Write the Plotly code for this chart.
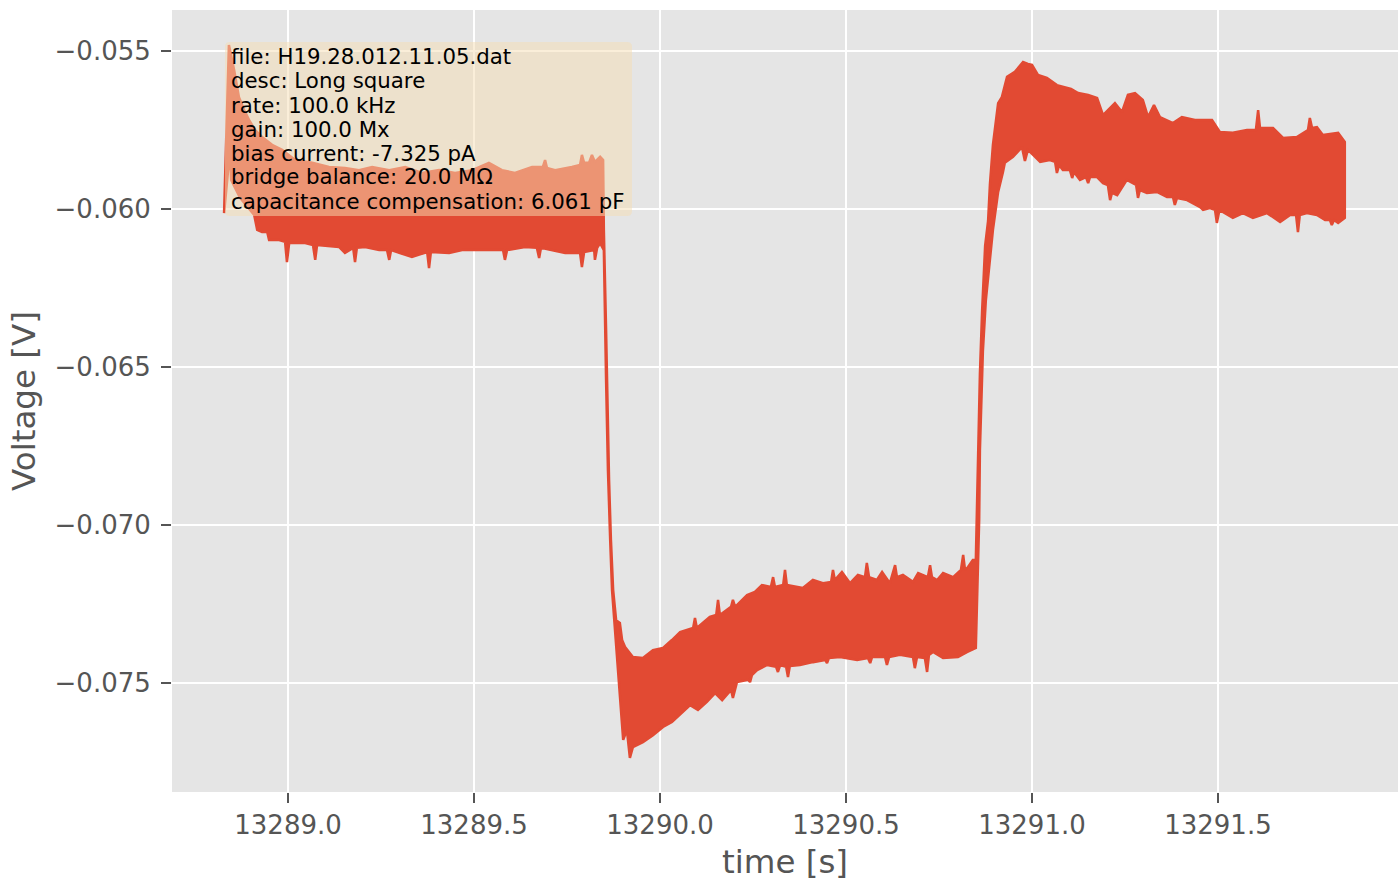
import plotly.graph_objects as go

# Upper edge of the noisy voltage trace (time [s], voltage [V])
upper_env = [
    (13288.828, -0.06013), (13288.841, -0.05481), (13288.855, -0.05560), (13288.868, -0.05646),
    (13288.882, -0.05687), (13288.895, -0.05718), (13288.911, -0.05750), (13288.930, -0.05772),
    (13288.957, -0.05797), (13288.984, -0.05813), (13289.019, -0.05845), (13289.065, -0.05854),
    (13289.110, -0.05867), (13289.153, -0.05870), (13289.191, -0.05877), (13289.226, -0.05867),
    (13289.272, -0.05877), (13289.315, -0.05867), (13289.360, -0.05886), (13289.406, -0.05877),
    (13289.449, -0.05886), (13289.495, -0.05877), (13289.540, -0.05854), (13289.575, -0.05877),
    (13289.610, -0.05886), (13289.656, -0.05867), (13289.685, -0.05867), (13289.691, -0.05845),
    (13289.696, -0.05870), (13289.718, -0.05877), (13289.763, -0.05867), (13289.785, -0.05861),
    (13289.790, -0.05829), (13289.796, -0.05854), (13289.809, -0.05854), (13289.817, -0.05829),
    (13289.825, -0.05851), (13289.839, -0.05835), (13289.847, -0.05845),
    # fall
    (13289.849, -0.06066), (13289.855, -0.06383), (13289.858, -0.06604), (13289.863, -0.06858),
    (13289.868, -0.07047), (13289.874, -0.07206), (13289.882, -0.07301), (13289.892, -0.07310),
    (13289.898, -0.07364), (13289.906, -0.07386),
    # trough
    (13289.927, -0.07418), (13289.954, -0.07421), (13289.981, -0.07396), (13290.008, -0.07389),
    (13290.032, -0.07364), (13290.054, -0.07339), (13290.089, -0.07326), (13290.094, -0.07294),
    (13290.099, -0.07326), (13290.134, -0.07291), (13290.151, -0.07285), (13290.156, -0.07237),
    (13290.161, -0.07285), (13290.191, -0.07259), (13290.196, -0.07237), (13290.202, -0.07259),
    (13290.234, -0.07222), (13290.255, -0.07212), (13290.274, -0.07190), (13290.298, -0.07196),
    (13290.304, -0.07165), (13290.309, -0.07196), (13290.331, -0.07190), (13290.336, -0.07142),
    (13290.341, -0.07190), (13290.384, -0.07199), (13290.411, -0.07174), (13290.438, -0.07184),
    (13290.460, -0.07180), (13290.465, -0.07142), (13290.470, -0.07174), (13290.489, -0.07149),
    (13290.511, -0.07184), (13290.532, -0.07158), (13290.551, -0.07165), (13290.556, -0.07120),
    (13290.562, -0.07165), (13290.583, -0.07174), (13290.597, -0.07149), (13290.618, -0.07184),
    (13290.632, -0.07127), (13290.637, -0.07165), (13290.653, -0.07158), (13290.680, -0.07180),
    (13290.694, -0.07152), (13290.720, -0.07165), (13290.726, -0.07127), (13290.731, -0.07165),
    (13290.745, -0.07174), (13290.761, -0.07152), (13290.788, -0.07165), (13290.809, -0.07142),
    (13290.815, -0.07095), (13290.820, -0.07142), (13290.828, -0.07133), (13290.841, -0.07111),
    (13290.849, -0.07111),
    # rise
    (13290.852, -0.06930), (13290.855, -0.06772), (13290.860, -0.06522), (13290.866, -0.06320),
    (13290.874, -0.06117), (13290.882, -0.06038), (13290.887, -0.05921), (13290.895, -0.05797),
    (13290.909, -0.05665), (13290.919, -0.05646), (13290.933, -0.05582), (13290.954, -0.05566),
    (13290.976, -0.05535), (13290.989, -0.05541), (13291.000, -0.05544), (13291.016, -0.05576),
    (13291.040, -0.05585), (13291.067, -0.05608), (13291.083, -0.05614), (13291.105, -0.05620),
    (13291.124, -0.05633), (13291.151, -0.05639), (13291.175, -0.05649), (13291.191, -0.05703),
    (13291.223, -0.05665), (13291.242, -0.05693), (13291.258, -0.05639), (13291.277, -0.05633),
    (13291.298, -0.05655), (13291.312, -0.05709), (13291.328, -0.05671), (13291.344, -0.05709),
    (13291.379, -0.05728), (13291.403, -0.05709), (13291.438, -0.05718), (13291.484, -0.05718),
    (13291.505, -0.05756), (13291.540, -0.05759), (13291.578, -0.05750), (13291.602, -0.05750),
    (13291.608, -0.05687), (13291.613, -0.05744), (13291.648, -0.05744), (13291.675, -0.05775),
    (13291.712, -0.05772), (13291.742, -0.05750), (13291.747, -0.05712), (13291.753, -0.05744),
    (13291.766, -0.05741), (13291.782, -0.05766), (13291.823, -0.05759), (13291.841, -0.05788),
]

# Lower edge of the noisy voltage trace (time [s], voltage [V])
lower_env = [
    (13288.828, -0.06013), (13288.844, -0.05813), (13288.847, -0.05908), (13288.871, -0.05965),
    (13288.909, -0.06019), (13288.917, -0.06066), (13288.930, -0.06073), (13288.944, -0.06073),
    (13288.949, -0.06098), (13288.976, -0.06098), (13288.992, -0.06104), (13288.997, -0.06168),
    (13289.003, -0.06108), (13289.046, -0.06108), (13289.067, -0.06114), (13289.073, -0.06161),
    (13289.078, -0.06114), (13289.137, -0.06120), (13289.153, -0.06139), (13289.175, -0.06123),
    (13289.180, -0.06168), (13289.185, -0.06123), (13289.207, -0.06120), (13289.245, -0.06130),
    (13289.266, -0.06130), (13289.272, -0.06161), (13289.277, -0.06130), (13289.333, -0.06152),
    (13289.374, -0.06136), (13289.379, -0.06187), (13289.384, -0.06136), (13289.433, -0.06139),
    (13289.468, -0.06130), (13289.503, -0.06130), (13289.548, -0.06130), (13289.578, -0.06130),
    (13289.583, -0.06161), (13289.589, -0.06130), (13289.637, -0.06120), (13289.669, -0.06123),
    (13289.675, -0.06155), (13289.680, -0.06123), (13289.745, -0.06139), (13289.785, -0.06139),
    (13289.790, -0.06184), (13289.796, -0.06136), (13289.823, -0.06130), (13289.825, -0.06161),
    (13289.831, -0.06123), (13289.839, -0.06108), (13289.849, -0.06130),
    # fall
    (13289.852, -0.06288), (13289.855, -0.06541), (13289.860, -0.06826), (13289.866, -0.07047),
    (13289.871, -0.07206), (13289.876, -0.07301), (13289.884, -0.07396), (13289.892, -0.07544),
    (13289.901, -0.07680), (13289.911, -0.07649), (13289.919, -0.07737), (13289.927, -0.07703),
    # trough
    (13289.954, -0.07687), (13289.981, -0.07665), (13290.008, -0.07639), (13290.032, -0.07623),
    (13290.054, -0.07601), (13290.081, -0.07570), (13290.102, -0.07585), (13290.126, -0.07560),
    (13290.148, -0.07532), (13290.167, -0.07554), (13290.191, -0.07522), (13290.196, -0.07547),
    (13290.207, -0.07497), (13290.237, -0.07490), (13290.242, -0.07497), (13290.247, -0.07475),
    (13290.261, -0.07459), (13290.288, -0.07443), (13290.312, -0.07449), (13290.317, -0.07465),
    (13290.323, -0.07443), (13290.339, -0.07449), (13290.344, -0.07481), (13290.349, -0.07446),
    (13290.376, -0.07443), (13290.411, -0.07434), (13290.444, -0.07427), (13290.449, -0.07437),
    (13290.454, -0.07421), (13290.484, -0.07418), (13290.530, -0.07427), (13290.559, -0.07421),
    (13290.565, -0.07437), (13290.570, -0.07418), (13290.605, -0.07418), (13290.610, -0.07443),
    (13290.616, -0.07418), (13290.645, -0.07411), (13290.680, -0.07418), (13290.685, -0.07453),
    (13290.691, -0.07418), (13290.712, -0.07421), (13290.718, -0.07465), (13290.723, -0.07411),
    (13290.734, -0.07402), (13290.761, -0.07421), (13290.801, -0.07418), (13290.825, -0.07402),
    (13290.849, -0.07389),
    # rise
    (13290.858, -0.06984), (13290.860, -0.06763), (13290.868, -0.06449), (13290.876, -0.06288),
    (13290.882, -0.06222), (13290.895, -0.06066), (13290.909, -0.05946), (13290.922, -0.05883),
    (13290.927, -0.05854), (13290.949, -0.05835), (13290.973, -0.05804), (13290.981, -0.05848),
    (13290.989, -0.05813), (13291.003, -0.05829), (13291.022, -0.05851), (13291.048, -0.05845),
    (13291.062, -0.05851), (13291.067, -0.05886), (13291.073, -0.05861), (13291.083, -0.05877),
    (13291.102, -0.05877), (13291.108, -0.05902), (13291.113, -0.05883), (13291.129, -0.05908),
    (13291.145, -0.05899), (13291.151, -0.05918), (13291.156, -0.05899), (13291.175, -0.05899),
    (13291.191, -0.05918), (13291.204, -0.05924), (13291.210, -0.05972), (13291.215, -0.05949),
    (13291.229, -0.05956), (13291.255, -0.05908), (13291.280, -0.05924), (13291.285, -0.05965),
    (13291.290, -0.05940), (13291.309, -0.05949), (13291.336, -0.05946), (13291.363, -0.05962),
    (13291.379, -0.05962), (13291.384, -0.05987), (13291.390, -0.05965), (13291.417, -0.05972),
    (13291.452, -0.05994), (13291.460, -0.06003), (13291.478, -0.05997), (13291.492, -0.06003),
    (13291.497, -0.06044), (13291.503, -0.06009), (13291.513, -0.06009), (13291.540, -0.06028),
    (13291.567, -0.06013), (13291.594, -0.06028), (13291.632, -0.06013), (13291.667, -0.06041),
    (13291.694, -0.06019), (13291.710, -0.06019), (13291.715, -0.06073), (13291.720, -0.06019),
    (13291.739, -0.06013), (13291.766, -0.06019), (13291.788, -0.06035), (13291.801, -0.06035),
    (13291.806, -0.06051), (13291.812, -0.06035), (13291.823, -0.06044), (13291.841, -0.06028),
]

x_tick_values = [13289.0, 13289.5, 13290.0, 13290.5, 13291.0, 13291.5]
x_tick_labels = ["13289.0", "13289.5", "13290.0", "13290.5", "13291.0", "13291.5"]
y_tick_values = [-0.075, -0.070, -0.065, -0.060, -0.055]
y_tick_labels = ["\u22120.075", "\u22120.070", "\u22120.065", "\u22120.060", "\u22120.055"]

info_lines = [
    "file: H19.28.012.11.05.dat",
    "desc: Long square",
    "rate: 100.0 kHz",
    "gain: 100.0 Mx",
    "bias current: -7.325 pA",
    "bridge balance: 20.0 M\u03a9",
    "capacitance compensation: 6.061 pF",
]

RED = "#E24A33"
FONT = "DejaVu Sans"
W, H = 1400, 881
ML, MR, MT, MB = 172, 2, 10, 89
PW, PH = W - ML - MR, H - MT - MB

poly_t = [p[0] for p in upper_env] + [p[0] for p in lower_env][::-1]
poly_v = [p[1] for p in upper_env] + [p[1] for p in lower_env][::-1]

fig = go.Figure()
fig.add_trace(go.Scatter(
    x=poly_t, y=poly_v, mode="lines", fill="toself", fillcolor=RED,
    line=dict(color=RED, width=2.5), showlegend=False, hoverinfo="skip",
))

def px_x(px):
    return (px - ML) / PW

def px_y(py):
    return (H - MB - py) / PH

# info box (wheat, alpha 0.5) above the trace
bx0, bx1, by0, by1, r = 225, 632, 42, 216, 5
path = (f"M {px_x(bx0 + r)} {px_y(by0)} L {px_x(bx1 - r)} {px_y(by0)} "
        f"Q {px_x(bx1)} {px_y(by0)} {px_x(bx1)} {px_y(by0 + r)} "
        f"L {px_x(bx1)} {px_y(by1 - r)} Q {px_x(bx1)} {px_y(by1)} {px_x(bx1 - r)} {px_y(by1)} "
        f"L {px_x(bx0 + r)} {px_y(by1)} Q {px_x(bx0)} {px_y(by1)} {px_x(bx0)} {px_y(by1 - r)} "
        f"L {px_x(bx0)} {px_y(by0 + r)} Q {px_x(bx0)} {px_y(by0)} {px_x(bx0 + r)} {px_y(by0)} Z")
fig.add_shape(type="path", path=path, xref="paper", yref="paper",
              fillcolor="rgba(245,222,179,0.5)", line=dict(width=0), layer="above")

for i, line in enumerate(info_lines):
    fig.add_annotation(
        text=line, xref="paper", yref="paper",
        x=px_x(229), y=px_y(57 + 24 * i), xanchor="left", yanchor="middle",
        showarrow=False, align="left",
        font=dict(family=FONT, size=21.3, color="black"),
    )

axis_common = dict(
    showgrid=True, gridcolor="white", gridwidth=2, zeroline=False, showline=False,
    ticks="outside", ticklen=10, tickwidth=1.5, tickcolor="#555555",
    tickfont=dict(family=FONT, size=26, color="#555555"),
)

fig.update_xaxes(
    range=[13288.688, 13291.984], tickvals=x_tick_values, ticktext=x_tick_labels,
    title=dict(text="time [s]", font=dict(family=FONT, size=32.5, color="#555555"), standoff=11),
    **axis_common,
)
fig.update_yaxes(
    range=[-0.078449, -0.053703], tickvals=y_tick_values, ticktext=y_tick_labels,
    ticklabelstandoff=5,
    title=dict(text="Voltage [V]", font=dict(family=FONT, size=32.5, color="#555555"), standoff=9),
    **axis_common,
)

fig.update_layout(
    width=W, height=H,
    margin=dict(l=ML, r=MR, t=MT, b=MB, pad=0),
    plot_bgcolor="#E5E5E5", paper_bgcolor="white",
    font=dict(family=FONT, color="#555555"),
)

fig.write_html(
    "out.html",
    config={"displayModeBar": False},
    post_script="document.body.style.margin='0';document.body.style.overflow='hidden';",
)
